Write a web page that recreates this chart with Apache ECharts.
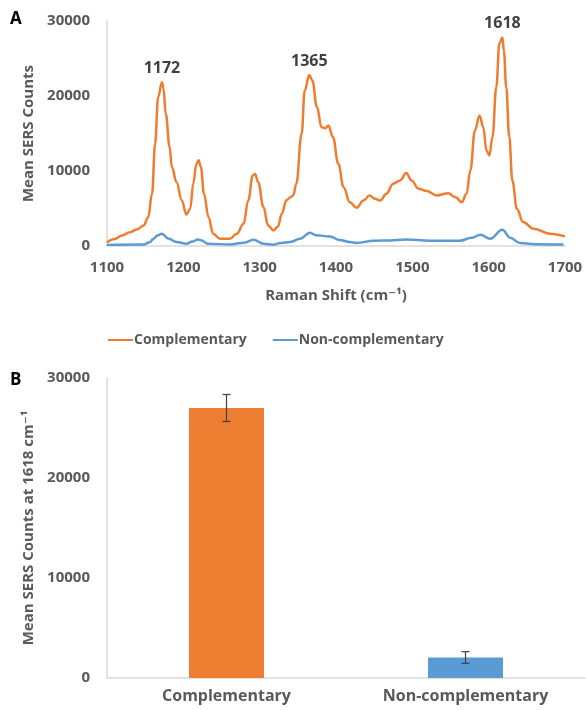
<!DOCTYPE html>
<html>
<head>
<meta charset="utf-8">
<script src="https://cdn.jsdelivr.net/npm/echarts@6/dist/echarts.min.js"></script>
<style>
  html, body { margin: 0; padding: 0; background: #fff; }
  #chart { width: 586px; height: 710px; }
</style>
</head>
<body>
<div id="chart"></div>
<script>
// Mean SERS spectra (Raman shift in cm-1, counts)
const complementaryShift = [1100,1110,1120,1130,1140,1148,1154,1159,1163,1167,1172,1174,1177,1182,1185,1191,1198,1204,1209,1213,1217,1220,1223,1227,1233,1239,1248,1261,1270,1279,1285,1291,1294,1298,1305,1311,1318,1324,1329,1335,1341,1344,1348,1355,1359,1365,1369,1375,1381,1386,1390,1396,1403,1410,1418,1427,1436,1444,1451,1458,1466,1475,1484,1492,1499,1508,1519,1532,1547,1556,1565,1571,1576,1582,1588,1593,1597,1601,1605,1610,1614,1618,1620,1623,1627,1631,1637,1645,1659,1680,1700];
const complementaryCounts = [500,950,1400,1850,2250,2750,3850,6970,13640,19850,21850,21000,17640,13190,10520,8520,6080,4210,4970,8300,10900,11450,10520,6970,3850,1640,970,970,1640,2970,6080,9410,9600,8520,5190,2750,2080,2600,4300,6100,6550,6750,8300,14970,20750,22800,22080,18520,15850,15700,16080,14520,10970,7850,5850,5110,6080,6750,6300,6080,6970,8300,8750,9720,8750,7640,7320,6750,7050,6520,5850,6970,10080,15410,17410,15850,12750,12080,14520,21190,27000,27800,26000,21190,14520,8750,4970,3190,2300,1640,1280];

const nonCompShift = [1100,1148,1156,1161,1166,1172,1180,1191,1204,1212,1219,1224,1232,1261,1280,1292,1305,1318,1327,1340,1353,1366,1374,1392,1405,1418,1427,1449,1470,1492,1523,1562,1578,1589,1602,1618,1628,1641,1660,1698];
const nonCompCounts = [150,200,500,970,1400,1640,1000,550,300,600,880,750,300,200,450,840,300,180,400,550,970,1770,1420,1280,800,520,400,700,750,880,700,700,1100,1500,970,2170,1100,400,250,200];

// Labelled peak positions on the complementary spectrum
const peakShifts = [1172, 1365, 1618];

// Intensity at 1618 cm-1 (mean and error)
const barCategories = ['Complementary', 'Non-complementary'];
const barMeans = [27000, 2050];
const barErrors = [1350, 580];

// Axis ticks
const shiftTicks = { min: 1100, max: 1700, step: 100 };
const countTicks = { min: 0, max: 30000, step: 10000 };

const ORANGE = '#ED7D31';
const BLUE = '#5B9BD5';
const TEXT = '#595959';
const AXIS = '#d9d9d9';
const FONT = '"Open Sans", "DejaVu Sans", sans-serif';

const zip = (xs, ys) => xs.map((x, i) => [x, ys[i]]);
const complementaryData = zip(complementaryShift, complementaryCounts);
const nonCompData = zip(nonCompShift, nonCompCounts);

const peakMarks = peakShifts.map(s => {
  const i = complementaryShift.indexOf(s);
  return { coord: [s, complementaryCounts[i]], value: s };
});

const errorData = barMeans.map((m, i) => [i, m - barErrors[i], m + barErrors[i]]);
const barData = barMeans.map((m, i) => ({
  value: m,
  itemStyle: { color: i === 0 ? ORANGE : BLUE }
}));

const plain = v => String(v);
const tickLabel = { color: TEXT, fontSize: 15, fontWeight: 'bold', fontFamily: FONT, formatter: plain };
const nameStyle = { color: TEXT, fontSize: 15, fontWeight: 'bold', fontFamily: FONT };

const chart = echarts.init(document.getElementById('chart'), null, { renderer: 'canvas' });
chart.setOption({
  animation: false,
  backgroundColor: '#fff',
  textStyle: { fontFamily: FONT },
  graphic: [
    { type: 'text', left: 10, top: 11, style: { text: 'A', fontSize: 17, fontWeight: 'bold', fill: '#000', fontFamily: FONT } },
    { type: 'text', left: 10, top: 372, style: { text: 'B', fontSize: 17, fontWeight: 'bold', fill: '#000', fontFamily: FONT } }
  ],
  legend: {
    top: 328,
    left: 103,
    data: [
      { name: 'Complementary', icon: 'rect' },
      { name: 'Non-complementary', icon: 'rect' }
    ],
    itemWidth: 25,
    itemHeight: 2,
    itemGap: 26,
    textStyle: { color: TEXT, fontSize: 14, fontWeight: 'bold', fontFamily: FONT, padding: [0, 0, 0, -4] }
  },
  grid: [
    { left: 107, top: 21, width: 458, height: 225 },
    { left: 107, top: 378, width: 478, height: 300 }
  ],
  xAxis: [
    {
      type: 'value', gridIndex: 0,
      min: shiftTicks.min, max: shiftTicks.max, interval: shiftTicks.step,
      axisLine: { lineStyle: { color: AXIS, width: 1.5 } },
      axisTick: { show: false },
      splitLine: { show: false },
      axisLabel: Object.assign({ margin: 14 }, tickLabel),
      name: 'Raman Shift (cm\u207B\u00B9)',
      nameLocation: 'middle',
      nameGap: 42,
      nameTextStyle: nameStyle
    },
    {
      type: 'category', gridIndex: 1,
      data: barCategories,
      axisLine: { lineStyle: { color: AXIS, width: 1.5 } },
      axisTick: { show: false },
      axisLabel: { margin: 10, color: TEXT, fontSize: 16, fontWeight: 'bold', fontFamily: FONT }
    }
  ],
  yAxis: [
    {
      type: 'value', gridIndex: 0,
      min: countTicks.min, max: countTicks.max, interval: countTicks.step,
      axisLine: { show: true, lineStyle: { color: AXIS, width: 1.5 } },
      axisTick: { show: false },
      splitLine: { show: false },
      axisLabel: Object.assign({ margin: 17 }, tickLabel),
      name: 'Mean SERS Counts',
      nameLocation: 'middle',
      nameGap: 70,
      nameTextStyle: nameStyle
    },
    {
      type: 'value', gridIndex: 1,
      min: countTicks.min, max: countTicks.max, interval: countTicks.step,
      axisLine: { show: true, lineStyle: { color: AXIS, width: 1.5 } },
      axisTick: { show: false },
      splitLine: { show: false },
      axisLabel: Object.assign({ margin: 17 }, tickLabel),
      name: 'Mean SERS Counts at 1618 cm\u207B\u00B9',
      nameLocation: 'middle',
      nameGap: 69,
      nameTextStyle: nameStyle
    }
  ],
  series: [
    {
      name: 'Complementary',
      type: 'line',
      xAxisIndex: 0, yAxisIndex: 0,
      data: complementaryData,
      symbol: 'none',
      smooth: 0.4,
      smoothMonotone: 'x',
      color: ORANGE,
      lineStyle: { color: ORANGE, width: 2.5 },
      z: 3,
      markPoint: {
        symbol: 'circle',
        symbolSize: 0,
        label: {
          show: true,
          position: 'top',
          distance: 6,
          formatter: p => String(p.value),
          color: '#404040',
          fontSize: 16,
          fontWeight: 'bold',
          fontFamily: FONT
        },
        data: peakMarks
      }
    },
    {
      name: 'Non-complementary',
      type: 'line',
      xAxisIndex: 0, yAxisIndex: 0,
      data: nonCompData,
      symbol: 'none',
      smooth: 0.4,
      smoothMonotone: 'x',
      color: BLUE,
      lineStyle: { color: BLUE, width: 2.5 },
      z: 2
    },
    {
      name: 'Intensity at 1618',
      type: 'bar',
      xAxisIndex: 1, yAxisIndex: 1,
      data: barData,
      barWidth: 75
    },
    {
      name: 'Error',
      type: 'custom',
      xAxisIndex: 1, yAxisIndex: 1,
      data: errorData,
      z: 10,
      renderItem: function (params, api) {
        const x = api.value(0);
        const lo = api.coord([x, api.value(1)]);
        const hi = api.coord([x, api.value(2)]);
        const cap = 4;
        const style = { stroke: '#404040', lineWidth: 1.2 };
        return {
          type: 'group',
          children: [
            { type: 'line', shape: { x1: hi[0], y1: hi[1], x2: lo[0], y2: lo[1] }, style },
            { type: 'line', shape: { x1: hi[0] - cap, y1: hi[1], x2: hi[0] + cap, y2: hi[1] }, style },
            { type: 'line', shape: { x1: lo[0] - cap, y1: lo[1], x2: lo[0] + cap, y2: lo[1] }, style }
          ]
        };
      }
    }
  ]
});
</script>
</body>
</html>
